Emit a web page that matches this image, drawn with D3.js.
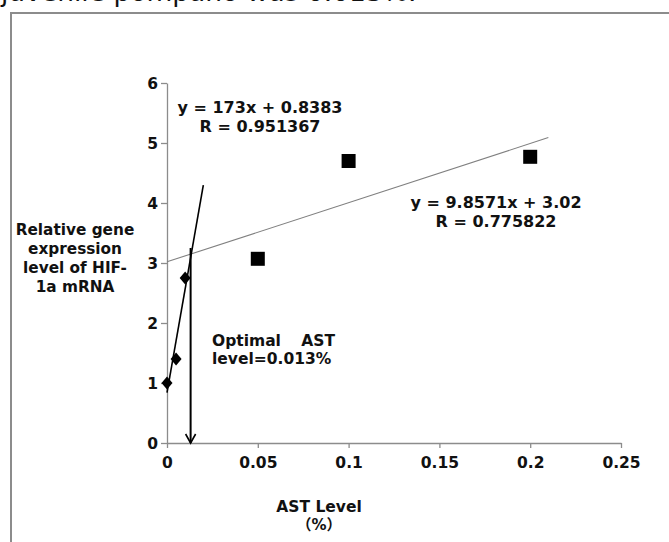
<!DOCTYPE html>
<html><head><meta charset="utf-8">
<script src="https://cdn.jsdelivr.net/npm/d3@7"></script>
<style>
html,body{margin:0;padding:0;background:#fff;overflow:hidden;}
svg{display:block;}
text{font-family:"DejaVu Sans","Noto Sans CJK SC",sans-serif;}
</style></head>
<body>
<script>
// Data
const diamondX = [0, 0.005, 0.01];
const diamondY = [1.0, 1.4, 2.75];
const squareX = [0.05, 0.1, 0.2];
const squareY = [3.07, 4.7, 4.77];
const fit1 = {slope: 173, intercept: 0.8383, x0: 0, x1: 0.02};
const fit2 = {slope: 9.8571, intercept: 3.02, x0: 0, x1: 0.21};
const optimalX = 0.013;
const arrowTop = 3.25;
const xTicks = [0, 0.05, 0.1, 0.15, 0.2, 0.25];
const xTickLabels = ["0", "0.05", "0.1", "0.15", "0.2", "0.25"];
const yTicks = [0, 1, 2, 3, 4, 5, 6];
const yTickLabels = ["0", "1", "2", "3", "4", "5", "6"];

const W = 669, H = 542;
const svg = d3.select("body").append("svg").attr("width", W).attr("height", H);

const x = d3.scaleLinear().domain([0, 0.25]).range([167, 621]);
const y = d3.scaleLinear().domain([0, 6]).range([443, 83]);

// caption fragment at top (cut off in the reference as well)
svg.append("text").attr("x", 1).attr("y", 1)
  .attr("font-size", 26.5).attr("fill", "#111")
  .text("juvenile pompano was 0.013%.");

// outer frame
svg.append("rect").attr("x", 11).attr("y", 13).attr("width", 700).attr("height", 560)
  .attr("fill", "none").attr("stroke", "#8c8c8c").attr("stroke-width", 2);

// axes
const axisColor = "#8c8c8c";
const xAxis = svg.append("g").attr("transform", `translate(0,${y(0)})`)
  .call(d3.axisBottom(x).tickValues(xTicks).tickFormat((d,i)=>xTickLabels[i]).tickSize(5).tickSizeOuter(0));
const yAxis = svg.append("g").attr("transform", `translate(${x(0)},0)`)
  .call(d3.axisLeft(y).tickValues(yTicks).tickFormat((d,i)=>yTickLabels[i]).tickSize(6).tickSizeOuter(0));
[xAxis, yAxis].forEach(g => {
  g.select(".domain").attr("stroke", axisColor).attr("stroke-width", 1.3);
  g.selectAll(".tick line").attr("stroke", axisColor).attr("stroke-width", 1.3);
  g.selectAll(".tick text").attr("font-family", "DejaVu Sans").attr("font-weight", "bold")
    .attr("font-size", 15.5).attr("fill", "#111");
});
xAxis.selectAll(".tick text").attr("y", 14).attr("dy", "0.71em");
yAxis.selectAll(".tick text").attr("x", -9).attr("dy", "0.36em");

// trendlines
const line = d3.line().x(d => x(d[0])).y(d => y(d[1]));
svg.append("path")
  .datum([[fit2.x0, fit2.slope*fit2.x0+fit2.intercept],[fit2.x1, fit2.slope*fit2.x1+fit2.intercept]])
  .attr("d", line).attr("stroke", "#808080").attr("stroke-width", 1.1).attr("fill", "none");
svg.append("path")
  .datum([[fit1.x0, fit1.slope*fit1.x0+fit1.intercept],[fit1.x1, fit1.slope*fit1.x1+fit1.intercept]])
  .attr("d", line).attr("stroke", "#000").attr("stroke-width", 1.6).attr("fill", "none");

// arrow
svg.append("path").datum([[optimalX, arrowTop],[optimalX, 0]])
  .attr("d", line).attr("stroke", "#000").attr("stroke-width", 2).attr("fill", "none");
svg.append("path")
  .attr("d", `M${x(optimalX)-5},${y(0)-9} L${x(optimalX)},${y(0)} L${x(optimalX)+5},${y(0)-9}`)
  .attr("stroke", "#000").attr("stroke-width", 1.6).attr("fill", "none");

// diamonds
svg.selectAll(".dia").data(diamondX).enter().append("path")
  .attr("transform", (d,i) => `translate(${x(d)},${y(diamondY[i])})`)
  .attr("d", "M0,-6.5 L5.5,0 L0,6.5 L-5.5,0 Z").attr("fill", "#000");

// squares
svg.selectAll(".sq").data(squareX).enter().append("rect")
  .attr("x", d => x(d) - 7).attr("y", (d,i) => y(squareY[i]) - 7)
  .attr("width", 14).attr("height", 14).attr("fill", "#000");

// labels
function label(lines, cx, y0, lh, size, anchor) {
  const t = svg.append("text").attr("font-weight", "bold").attr("font-size", size)
    .attr("fill", "#111").attr("text-anchor", anchor || "middle");
  lines.forEach((s, i) => t.append("tspan").attr("x", cx).attr("y", y0 + i*lh).text(s));
  return t;
}
label(["y = 173x + 0.8383", "R = 0.951367"], 260, 113, 19, 16);
label(["y = 9.8571x + 3.02", "R = 0.775822"], 496, 208, 19, 16);
label(["Relative gene", "expression", "level of HIF-", "1a mRNA"], 75, 235, 19, 15.3);
label(["Optimal"], 212, 346, 18, 15.5, "start");
label(["AST"], 335, 346, 18, 15.5, "end");
label(["level=0.013%"], 212, 364, 18, 15.5, "start");
label(["AST Level"], 319, 512, 18, 15.5);
label(["（%）"], 319, 530, 18, 15, "middle").attr("font-family", "Noto Sans CJK SC");
</script>
</body></html>
